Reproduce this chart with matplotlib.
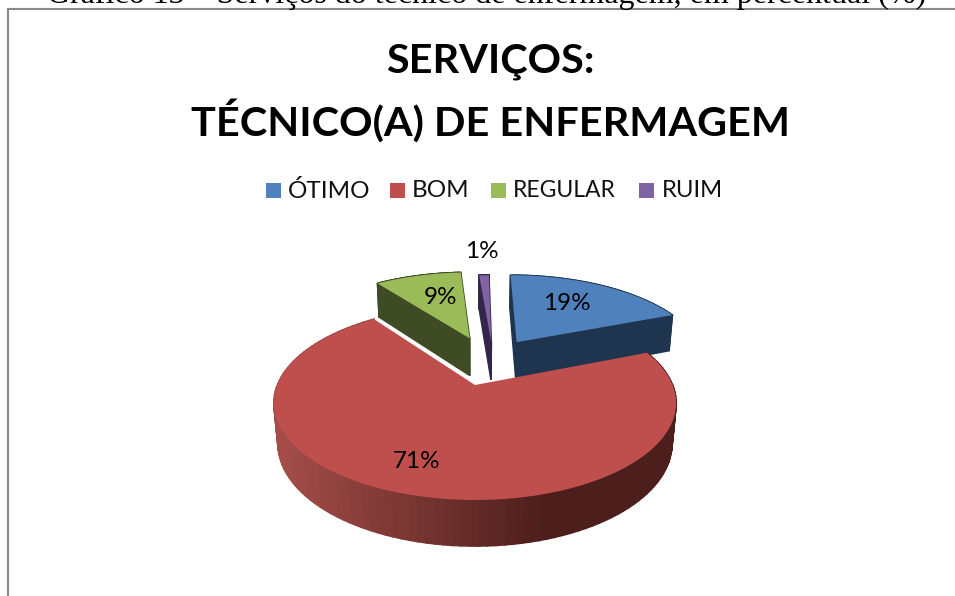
#!/usr/bin/env python3
"""3D exploded pie of the nursing technician service ratings."""

import math

import matplotlib
matplotlib.use("Agg")
import matplotlib.pyplot as plt
from matplotlib.patches import Polygon, Rectangle

CAPTION = "Gráfico 13 – Serviços do técnico de enfermagem, em percentual (%)"
TITLE = "SERVIÇOS:\nTÉCNICO(A) DE ENFERMAGEM"
categories = ["ÓTIMO", "BOM", "REGULAR", "RUIM"]
values = [19, 71, 9, 1]
top_colors = ["#4F81BD", "#BE4F4C", "#9BBB59", "#8064A2"]
side_colors = ["#1F354F", "#4C1E1C", "#3F4B24", "#33264A"]

# explosion of each slice, in pie radius units (right, back)
explode = [(0.23, 0.50), (0.0, 0.0), (-0.03, 0.55), (0.09, 0.50)]
label_pos = [(567, 304), (417, 461), (440, 297), (482, 251)]
legend_x = [266, 390, 491, 639]
legend_text_x = [288, 412, 513, 662]
legend_size = [17.5, 17.5, 16.5, 17.2]

# projection of the pie plane onto the picture, in pixels
CX, CY = 475, 385
KX, KY = 197.6, 93.6
PERSP = 0.186
DEPTH_Q, DEPTH_T = 0.02, 40.7


def project(u, v, bottom=False):
    if bottom:
        s = 1 / (1 + PERSP * v + DEPTH_Q)
        return CX + KX * u * s, CY - (KY * v - DEPTH_T) * s
    s = 1 / (1 + PERSP * v)
    return CX + KX * u * s, CY - KY * v * s


def rim(a0, a1, off, n=120):
    """Points on the slice rim, angles in degrees clockwise from the top."""
    pts = []
    for i in range(n + 1):
        a = math.radians(a0 + (a1 - a0) * i / n)
        pts.append((math.sin(a) + off[0], math.cos(a) + off[1]))
    return pts


def mix(c0, c1, t):
    rgb0 = matplotlib.colors.to_rgb(c0)
    rgb1 = matplotlib.colors.to_rgb(c1)
    return tuple(a + (b - a) * t for a, b in zip(rgb0, rgb1))


def wall(ax, p0, p1, color, z):
    quad = [project(*p0), project(*p1), project(*p1, bottom=True), project(*p0, bottom=True)]
    ax.add_patch(Polygon(quad, closed=True, facecolor=color, edgecolor=color, linewidth=1.2, zorder=z))


fig = plt.figure(figsize=(9.55, 5.96), dpi=100)
ax = fig.add_axes([0, 0, 1, 1])
ax.set_xlim(0, 955)
ax.set_ylim(596, 0)
ax.axis("off")

# caption cut off by the top of the page, and the chart frame
ax.text(487, 2.5, CAPTION, ha="center", va="baseline", fontsize=23, family="Liberation Serif", color="black", zorder=3)
ax.add_patch(Rectangle((8, 8.5), 1000, 700, facecolor="white", edgecolor="#8a8a8a", linewidth=1.5, zorder=1))

title_lines = TITLE.split("\n")
ax.text(490, 62, title_lines[0], ha="center", va="center", fontsize=29.8, fontweight="bold", family="Lato", zorder=5)
ax.text(490, 121, title_lines[1], ha="center", va="center", fontsize=29.8, fontweight="bold", family="Lato", zorder=5)

for name, x, tx, size, color in zip(categories, legend_x, legend_text_x, legend_size, top_colors):
    ax.add_patch(Rectangle((x, 183), 15, 15, facecolor=color, edgecolor="none", zorder=5))
    ax.text(tx, 190.5, name, ha="left", va="center", fontsize=size, family="Lato", color="#111111", zorder=5)

# slice angles, clockwise from the top
total = sum(values)
starts, ends = [], []
a = 0.0
for val in values:
    starts.append(a)
    a += 360.0 * val / total
    ends.append(a)

# back slices first, the big front slice last
z = 2.0
for i in [3, 2, 0, 1]:
    off = explode[i]
    pts = rim(starts[i], ends[i], off)
    apex = off
    if i != 1:
        wall(ax, apex, pts[0], side_colors[i], z)
        wall(ax, apex, pts[-1], side_colors[i], z)
    for p0, p1 in zip(pts[:-1], pts[1:]):
        # only the outer wall of the big slice gets the light falloff
        color = side_colors[i]
        if i == 1:
            sx = project(*p0)[0]
            t = min(max((sx - 280) / 270, 0), 1)
            color = mix("#A44D48", "#4C1E1C", t)
        wall(ax, p0, p1, color, z)
    top = [project(*apex)] + [project(*p) for p in pts]
    ax.add_patch(Polygon(top, closed=True, facecolor=top_colors[i], edgecolor="none", zorder=z + 0.1))
    z += 0.2

for (x, y), val in zip(label_pos, values):
    ax.text(x, y, f"{val}%", ha="center", va="center", fontsize=17.5, family="Lato", color="black", zorder=6)

fig.savefig("out.png", dpi=100)
